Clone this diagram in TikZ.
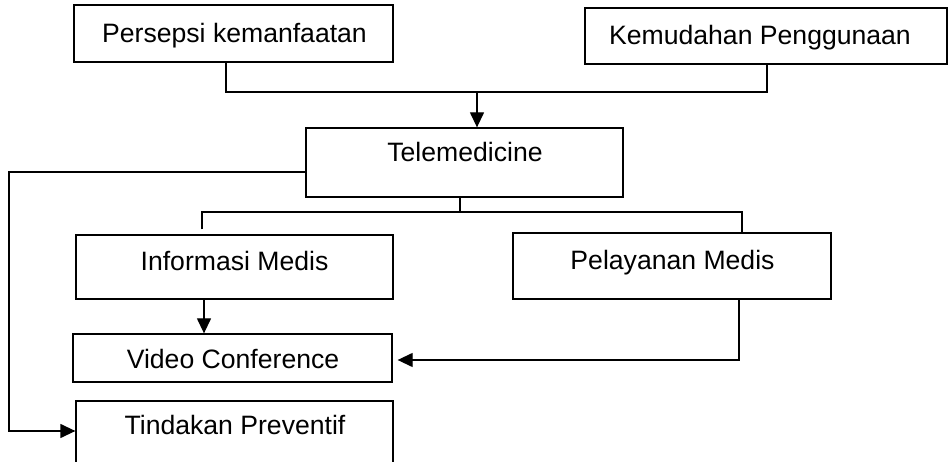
\documentclass[tikz,border=0pt]{standalone}
\usepackage{fontspec}
\setmainfont{Liberation Sans}
\usetikzlibrary{arrows.meta}
\begin{document}
\begin{tikzpicture}[x=1pt,y=-1pt,
  box/.style={draw=black,line width=1.3pt,rectangle,inner sep=0pt},
  txt/.style={anchor=base,inner sep=0pt,font=\fontsize{26.6}{32}\selectfont},
  ln/.style={draw=black,line width=1.3pt},
  arr/.style={ln,-{Triangle[length=15pt,width=14pt]}}]
\clip (0,0) rectangle (951,462);
\fill[white] (0,0) rectangle (951,462);
% boxes
\node[box,minimum width=319pt,minimum height=57pt] (P) at (233.5,33.5) {};
\node[box,minimum width=362pt,minimum height=56pt] (K) at (766,36) {};
\node[box,minimum width=317pt,minimum height=69pt] (T) at (464.5,162.5) {};
\node[box,minimum width=317pt,minimum height=64pt] (I) at (234.5,267) {};
\node[box,minimum width=318pt,minimum height=66pt] (Pel) at (672,266) {};
\node[box,minimum width=319pt,minimum height=48pt] (V) at (232.5,358) {};
\node[box,minimum width=317pt,minimum height=80pt] (Tin) at (234.5,441) {};
% texts
\node[txt] (tP) at (234.5,43) {Persepsi kemanfaatan};
\node[txt] (tK) at (760,45) {Kemudahan Penggunaan};
\node[txt] (tT) at (465,162) {Telemedicine};
\node[txt] (tI) at (234.5,271) {Informasi Medis};
\node[txt] (tPel) at (672.5,270) {Pelayanan Medis};
\node[txt] (tV) at (233,369) {Video Conference};
\node[txt] (tTin) at (235,435) {Tindakan Preventif};
% connectors
\coordinate (j1) at (477,92);
\draw[ln] ([xshift=-7.5pt]P.south) |- (j1) -| ([xshift=1pt]K.south);
\draw[arr] (j1) -- (j1 |- T.north);
\coordinate (c2) at (9,431);
\draw[arr] ([yshift=-9.5pt]T.west) -| (c2) -- (c2 -| Tin.west);
\coordinate (j2) at (460,212);
\draw[ln] ([xshift=-4.5pt]T.south) -- (j2);
\draw[ln] ([xshift=-32.5pt,yshift=5pt]I.north) |- (j2) -| ([xshift=70pt]Pel.north);
\draw[arr] ([xshift=-30.5pt]I.south) coordinate (a) -- (a |- V.north);
\draw[arr] ([xshift=67pt]Pel.south) |- ([xshift=5pt,yshift=-2pt]V.east);
\end{tikzpicture}
\end{document}
